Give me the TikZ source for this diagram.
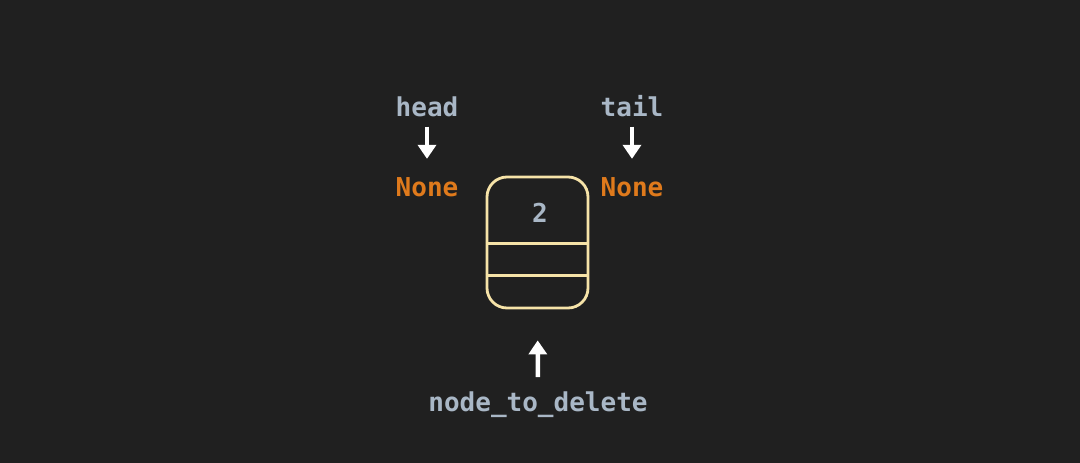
\documentclass[tikz,border=0pt]{standalone}
\usepackage{fontspec}
\setmonofont{DejaVu Sans Mono}
\usetikzlibrary{arrows.meta}
\definecolor{bg}{HTML}{202020}
\definecolor{txt}{HTML}{A9B7C6}
\definecolor{kw}{HTML}{DF7A1C}
\definecolor{boxc}{HTML}{F6E3A8}
\begin{document}
\begin{tikzpicture}[x=1pt,y=-1pt,
  lbl/.style={inner sep=0pt,anchor=base,font=\ttfamily\bfseries\fontsize{26}{30}\selectfont},
  varname/.style={lbl,text=txt},
  nonev/.style={lbl,text=kw},
  arr/.style={draw=white,line width=4.5pt,-{Triangle[width=18pt,length=14pt]}},
  cell/.style={draw=boxc,line width=2.8pt,rounded corners=20pt,minimum width=101pt,minimum height=131pt,inner sep=0pt},
  divider/.style={draw=boxc,line width=3pt}]
\fill[bg] (0,0) rectangle (1080,463);
\useasboundingbox (0,0) rectangle (1080,463);
\node[varname] (head) at (427,116) {head};
\node[varname] (tail) at (632,116) {tail};
\node[nonev] (nonel) at (427,196) {None};
\node[nonev] (noner) at (632,196) {None};
\node[cell] (box) at (537.5,242.5) {};
\draw[divider] (box.west |- 0,243) -- (box.east |- 0,243);
\draw[divider] (box.west |- 0,275) -- (box.east |- 0,275);
\node[varname] (val) at (540,222) {2};
\node[varname] (del) at (538,411) {node\_to\_delete};
\draw[arr,shorten <=10pt,shorten >=18pt] (head.south) -- (nonel.north);
\draw[arr,shorten <=10pt,shorten >=18pt] (tail.south) -- (noner.north);
\draw[arr,shorten <=14pt,shorten >=31pt] (del.north) -- (box.south);
\end{tikzpicture}
\end{document}
